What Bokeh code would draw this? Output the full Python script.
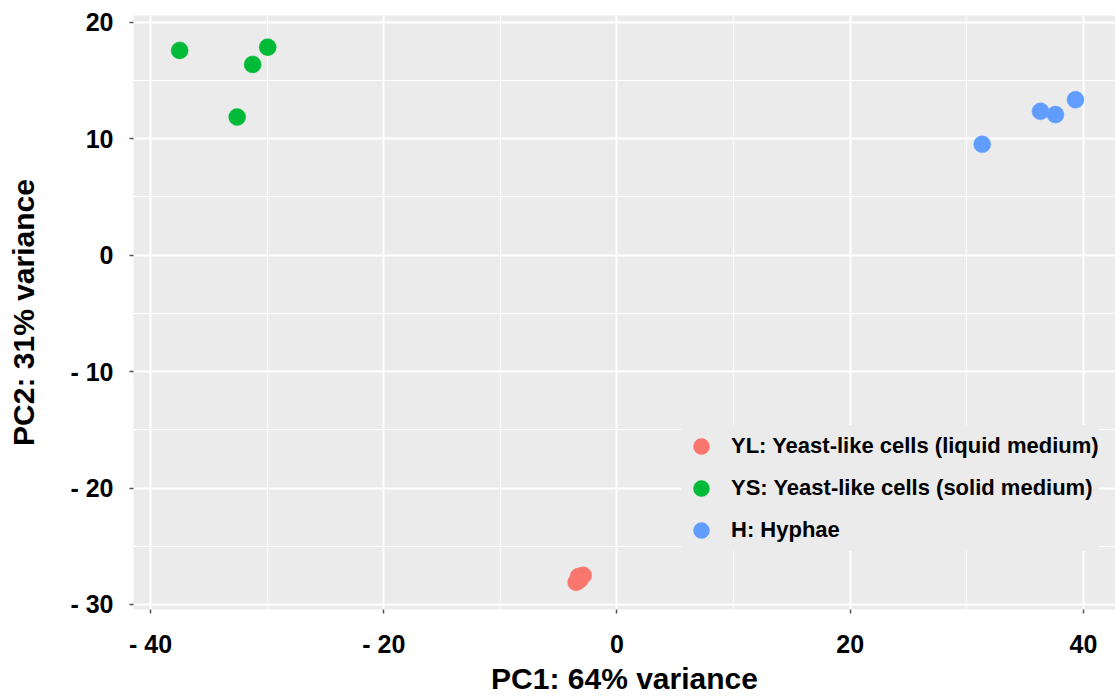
from bokeh.plotting import figure
from bokeh.models import Range1d, FixedTicker, Legend, LegendItem
from bokeh.embed import file_html
from bokeh.resources import INLINE

# ---- data ----
group_labels = ["YL: Yeast-like cells (liquid medium)",
                "YS: Yeast-like cells (solid medium)",
                "H: Hyphae"]
group_colors = ["#F8766D", "#00BA38", "#619CFF"]

yl_pc1 = [-3.3, -2.9, -3.5, -3.2]
yl_pc2 = [-27.6, -27.5, -28.1, -27.9]
ys_pc1 = [-37.5, -29.95, -31.24, -32.57]
ys_pc2 = [17.57, 17.85, 16.37, 11.85]
h_pc1 = [31.32, 36.32, 37.6, 39.32]
h_pc2 = [9.51, 12.34, 12.06, 13.34]

x_ticks = [-40, -20, 0, 20, 40]
x_tick_labels = ["- 40", "- 20", "0", "20", "40"]
x_minor = [-30, -10, 10, 30]
y_ticks = [-30, -20, -10, 0, 10, 20]
y_tick_labels = ["- 30", "- 20", "- 10", "0", "10", "20"]
y_minor = [-25, -15, -5, 5, 15]

FONT = "Liberation Sans"

p = figure(width=1115, height=697, output_backend="svg", toolbar_location=None,
           x_range=Range1d(-41.46, 42.75), y_range=Range1d(-30.43, 20.57),
           min_border_left=133, min_border_right=0, min_border_top=15,
           min_border_bottom=87, background_fill_color="#EBEBEB",
           border_fill_color="white", outline_line_color=None)

# grid
for g in (p.xgrid[0], p.ygrid[0]):
    g.grid_line_color = "white"
    g.grid_line_width = 2
    g.minor_grid_line_color = "white"
    g.minor_grid_line_width = 1

p.xaxis.ticker = FixedTicker(ticks=x_ticks, minor_ticks=x_minor)
p.yaxis.ticker = FixedTicker(ticks=y_ticks, minor_ticks=y_minor)
p.xaxis.major_label_overrides = dict(zip(x_ticks, x_tick_labels))
p.yaxis.major_label_overrides = dict(zip(y_ticks, y_tick_labels))

for ax in (p.xaxis[0], p.yaxis[0]):
    ax.axis_line_color = None
    ax.major_tick_line_color = "#555555"
    ax.major_tick_line_width = 1.5
    ax.major_tick_out = 4
    ax.major_tick_in = 0
    ax.minor_tick_line_color = None
    ax.major_label_text_font = FONT
    ax.major_label_text_font_style = "bold"
    ax.major_label_text_font_size = "25px"
    ax.major_label_text_color = "black"
    ax.axis_label_text_font = FONT
    ax.axis_label_text_font_style = "bold"
    ax.axis_label_text_font_size = "30px"
    ax.axis_label_text_color = "black"
    ax.axis_label_text_line_height = 0.8
    ax.major_label_text_line_height = 0.8

p.xaxis.axis_label = "PC1: 64% variance"
p.yaxis.axis_label = "PC2: 31% variance"
p.xaxis.major_label_standoff = 16
p.yaxis.major_label_standoff = 16
p.xaxis.axis_label_standoff = 1
p.yaxis.axis_label_standoff = 27

renderers = []
for xs, ys, c in ((yl_pc1, yl_pc2, group_colors[0]),
                  (ys_pc1, ys_pc2, group_colors[1]),
                  (h_pc1, h_pc2, group_colors[2])):
    r = p.scatter(xs, ys, size=17, fill_color=c, line_color=c, line_width=0.5)
    renderers.append(r)

legend = Legend(items=[LegendItem(label=lbl, renderers=[r])
                       for lbl, r in zip(group_labels, renderers)],
                location=(548, 58), orientation="vertical",
                background_fill_color="#EBEBEB", background_fill_alpha=1,
                border_line_color=None, glyph_width=40, glyph_height=42,
                spacing=-1, label_standoff=10, padding=0, margin=0,
                label_text_font=FONT, label_text_font_style="bold",
                label_text_font_size="22px", label_text_color="black")
p.add_layout(legend, "center")

open("out.html", "w").write(file_html(p, INLINE))
